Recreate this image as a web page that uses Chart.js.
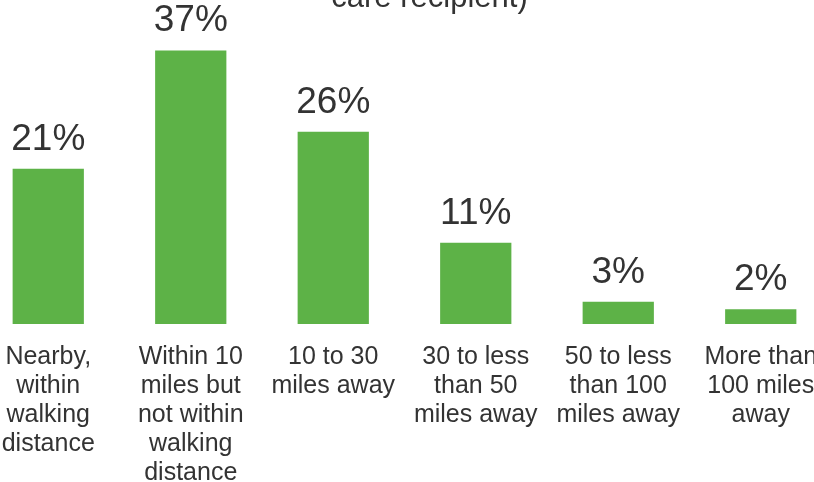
<!DOCTYPE html>
<html>
<head>
<meta charset="utf-8">
<script src="https://cdn.jsdelivr.net/npm/chart.js@4"></script>
<style>
  html, body { margin: 0; padding: 0; background: #fff; overflow: hidden; }
  body { width: 814px; height: 482px; position: relative; }
  #wrap { position: absolute; left: -23px; top: -40px; width: 905px; height: 522px; }
</style>
</head>
<body>
<div id="wrap"><canvas id="distance"></canvas></div>
<script>
const categories = [
    ['Nearby,', 'within', 'walking', 'distance'],
    ['Within 10', 'miles but', 'not within', 'walking', 'distance'],
    ['10 to 30', 'miles away'],
    ['30 to less', 'than 50', 'miles away'],
    ['50 to less', 'than 100', 'miles away'],
    ['More than', '100 miles', 'away']
];
const shares = [21, 37, 26, 11, 3, 2];
const titleText = 'care recipient)';

const fontFamily = '"Liberation Sans", Arial, sans-serif';
const textColor = '#333333';

// percentage printed above each bar
const valueLabels = {
    id: 'valueLabels',
    afterDatasetsDraw(chart) {
        const ctx = chart.ctx;
        ctx.save();
        ctx.font = '37px ' + fontFamily;
        ctx.fillStyle = textColor;
        ctx.textAlign = 'center';
        ctx.textBaseline = 'alphabetic';
        chart.getDatasetMeta(0).data.forEach((bar, i) => {
            ctx.fillText(shares[i] + '%', bar.x, bar.y - 19);
        });
        ctx.restore();
    }
};

const ctx = document.getElementById('distance');

new Chart(ctx, {
    type: 'bar',
    data: {
        labels: categories,
        datasets: [{
            data: shares,
            backgroundColor: '#5DB247',
            borderWidth: 0,
            barPercentage: 1,
            categoryPercentage: 0.5
        }]
    },
    options: {
        responsive: true,
        maintainAspectRatio: false,
        animation: false,
        layout: { padding: 0 },
        plugins: {
            legend: { display: false },
            tooltip: { enabled: false },
            title: {
                display: true,
                text: titleText,
                color: textColor,
                font: { family: fontFamily, size: 31, weight: 'normal' },
                padding: { top: 20, bottom: 11 }
            }
        },
        scales: {
            x: {
                grid: { display: false, drawTicks: false },
                border: { display: false },
                ticks: {
                    color: textColor,
                    font: { family: fontFamily, size: 25, lineHeight: 1.16 },
                    padding: 19,
                    maxRotation: 0,
                    autoSkip: false
                },
                afterFit: s => { s.height = 158; }
            },
            y: {
                position: 'right',
                min: 0,
                max: 40,
                grid: { display: false, drawTicks: false },
                border: { display: false },
                ticks: { display: false },
                afterFit: s => { s.width = 50; }
            }
        }
    },
    plugins: [valueLabels]
});
</script>
</body>
</html>
